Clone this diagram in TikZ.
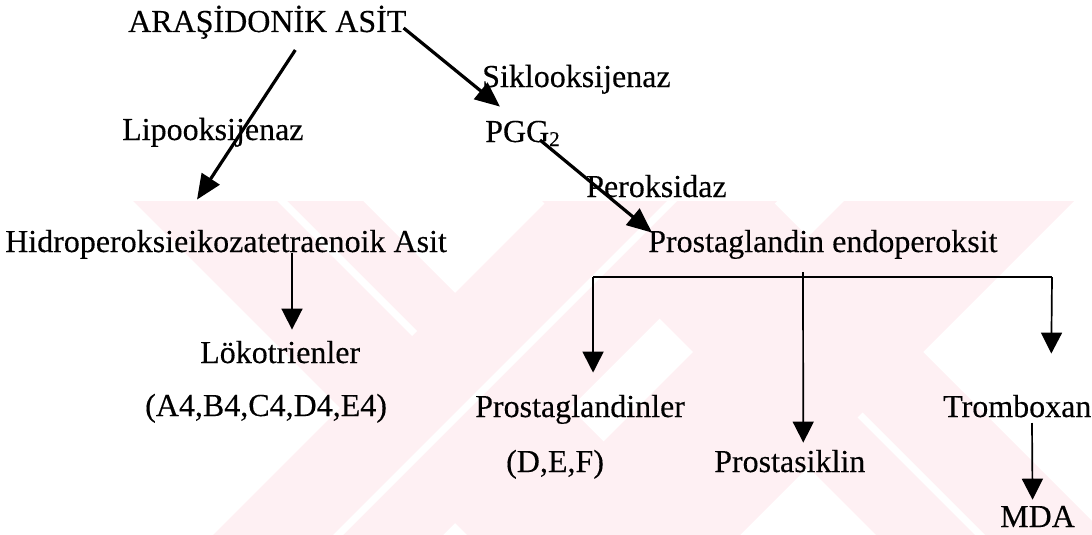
\documentclass[tikz,border=0pt]{standalone}
\usepackage{fontspec}
\setmainfont{Liberation Serif}
\newfontfamily\chartfont{Liberation Serif}[FakeBold=0.3]
\usetikzlibrary{arrows.meta,calc}
\definecolor{wmpink}{RGB}{254,240,243}

\begin{document}
\begin{tikzpicture}[x=1pt,y=-1pt,
    lbl/.style={anchor=base west,inner sep=0pt,font=\chartfont\fontsize{32}{38}\selectfont},
    big/.style={line width=3.2pt,-{Triangle[length=25pt,width=21pt]}},
    small/.style={line width=1.7pt,-{Triangle[length=21pt,width=21pt]}},
    wire/.style={line width=2pt}]
    \useasboundingbox (0,0) rectangle (1092,535);

    % pale emblem in the background
    \begin{scope}
      \clip (0,201) rectangle (1092,535);
      \foreach \a/\b in {-68/162,341/571}
        \fill[wmpink] (\a+201,201) -- (\b+201,201) -- (\b+535,535) -- (\a+535,535) -- cycle;
      \foreach \a/\b in {748/978,1045/1275}
        \fill[wmpink] (\a-201,201) -- (\b-201,201) -- (\b-535,535) -- (\a-535,535) -- cycle;
      \fill[white] (667,201) -- (677,201) -- (343,535) -- (333,535) -- cycle;
      \fill[white] (277,201) -- (287,201) -- (417,331) -- (412,336) -- cycle;
      \fill[white] (857.5,417.5) -- (862.5,412.5) -- (985,535) -- (975,535) -- cycle;
    \end{scope}

    % labels
    \node[lbl] (ara)   at (128,32)  {ARAŞİDONİK ASİT};
    \node[lbl] (sik)   at (482,87)  {Siklooksijenaz};
    \node[lbl] (lipo)  at (122,140) {Lipooksijenaz};
    \node[lbl] (pgg)   at (485,142) {PGG\raisebox{-4pt}{\fontsize{21}{21}\selectfont 2}};
    \node[lbl] (perox) at (586,197) {Peroksidaz};
    \node[lbl] (hidro) at (5,252)   {Hidroperoksieikozatetraenoik Asit};
    \node[lbl] (endo)  at (648,252) {Prostaglandin endoperoksit};
    \node[lbl] (lok)   at (200,363) {Lökotrienler};
    \node[lbl] (lokab) at (145,416) {(A4,B4,C4,D4,E4)};
    \node[lbl] (pgl)   at (475,417) {Prostaglandinler};
    \node[lbl] (pglab) at (506,472) {(D,E,F)};
    \node[lbl] (psik)  at (714,472) {Prostasiklin};
    \node[lbl] (trom)  at (943,417) {Tromboxan};
    \node[lbl] (mda)   at (1000,527){MDA};

    % enzyme steps
    \draw[big] ($(ara.base east)+(-3,-4)$) -- ($(pgg.north west)+(15,-14)$);
    \draw[big] ($(ara.base)+(28,18)$) -- ($(hidro.north)+(-29,-30)$);
    \draw[big] ($(pgg.base west)+(55,-2)$) -- ($(endo.north west)+(4,3)$);
    \draw[small] ($(hidro.base west)+(287,1)$) -- ($(lok.north west)+(92,-11)$);

    % branching below the endoperoxide
    \coordinate (forkL) at ($(endo.base west)+(-55,25)$);
    \coordinate (forkR) at ($(endo.base west)+(404,25)$);
    \draw[wire] (forkL) -- (forkR);
    \draw[small] (forkL) -- ($(pgl.north)+(13,-22)$);
    \draw[small] (forkR) -- ($(trom.north)+(34,-41)$);
    \draw[small] ($(endo.base west)+(155,20)$) -- ($(psik.north)+(13.5,-7)$);
    \draw[small] ($(trom.base west)+(89,6)$) -- ($(mda.north)+(-5,-6)$);
\end{tikzpicture}
\end{document}
